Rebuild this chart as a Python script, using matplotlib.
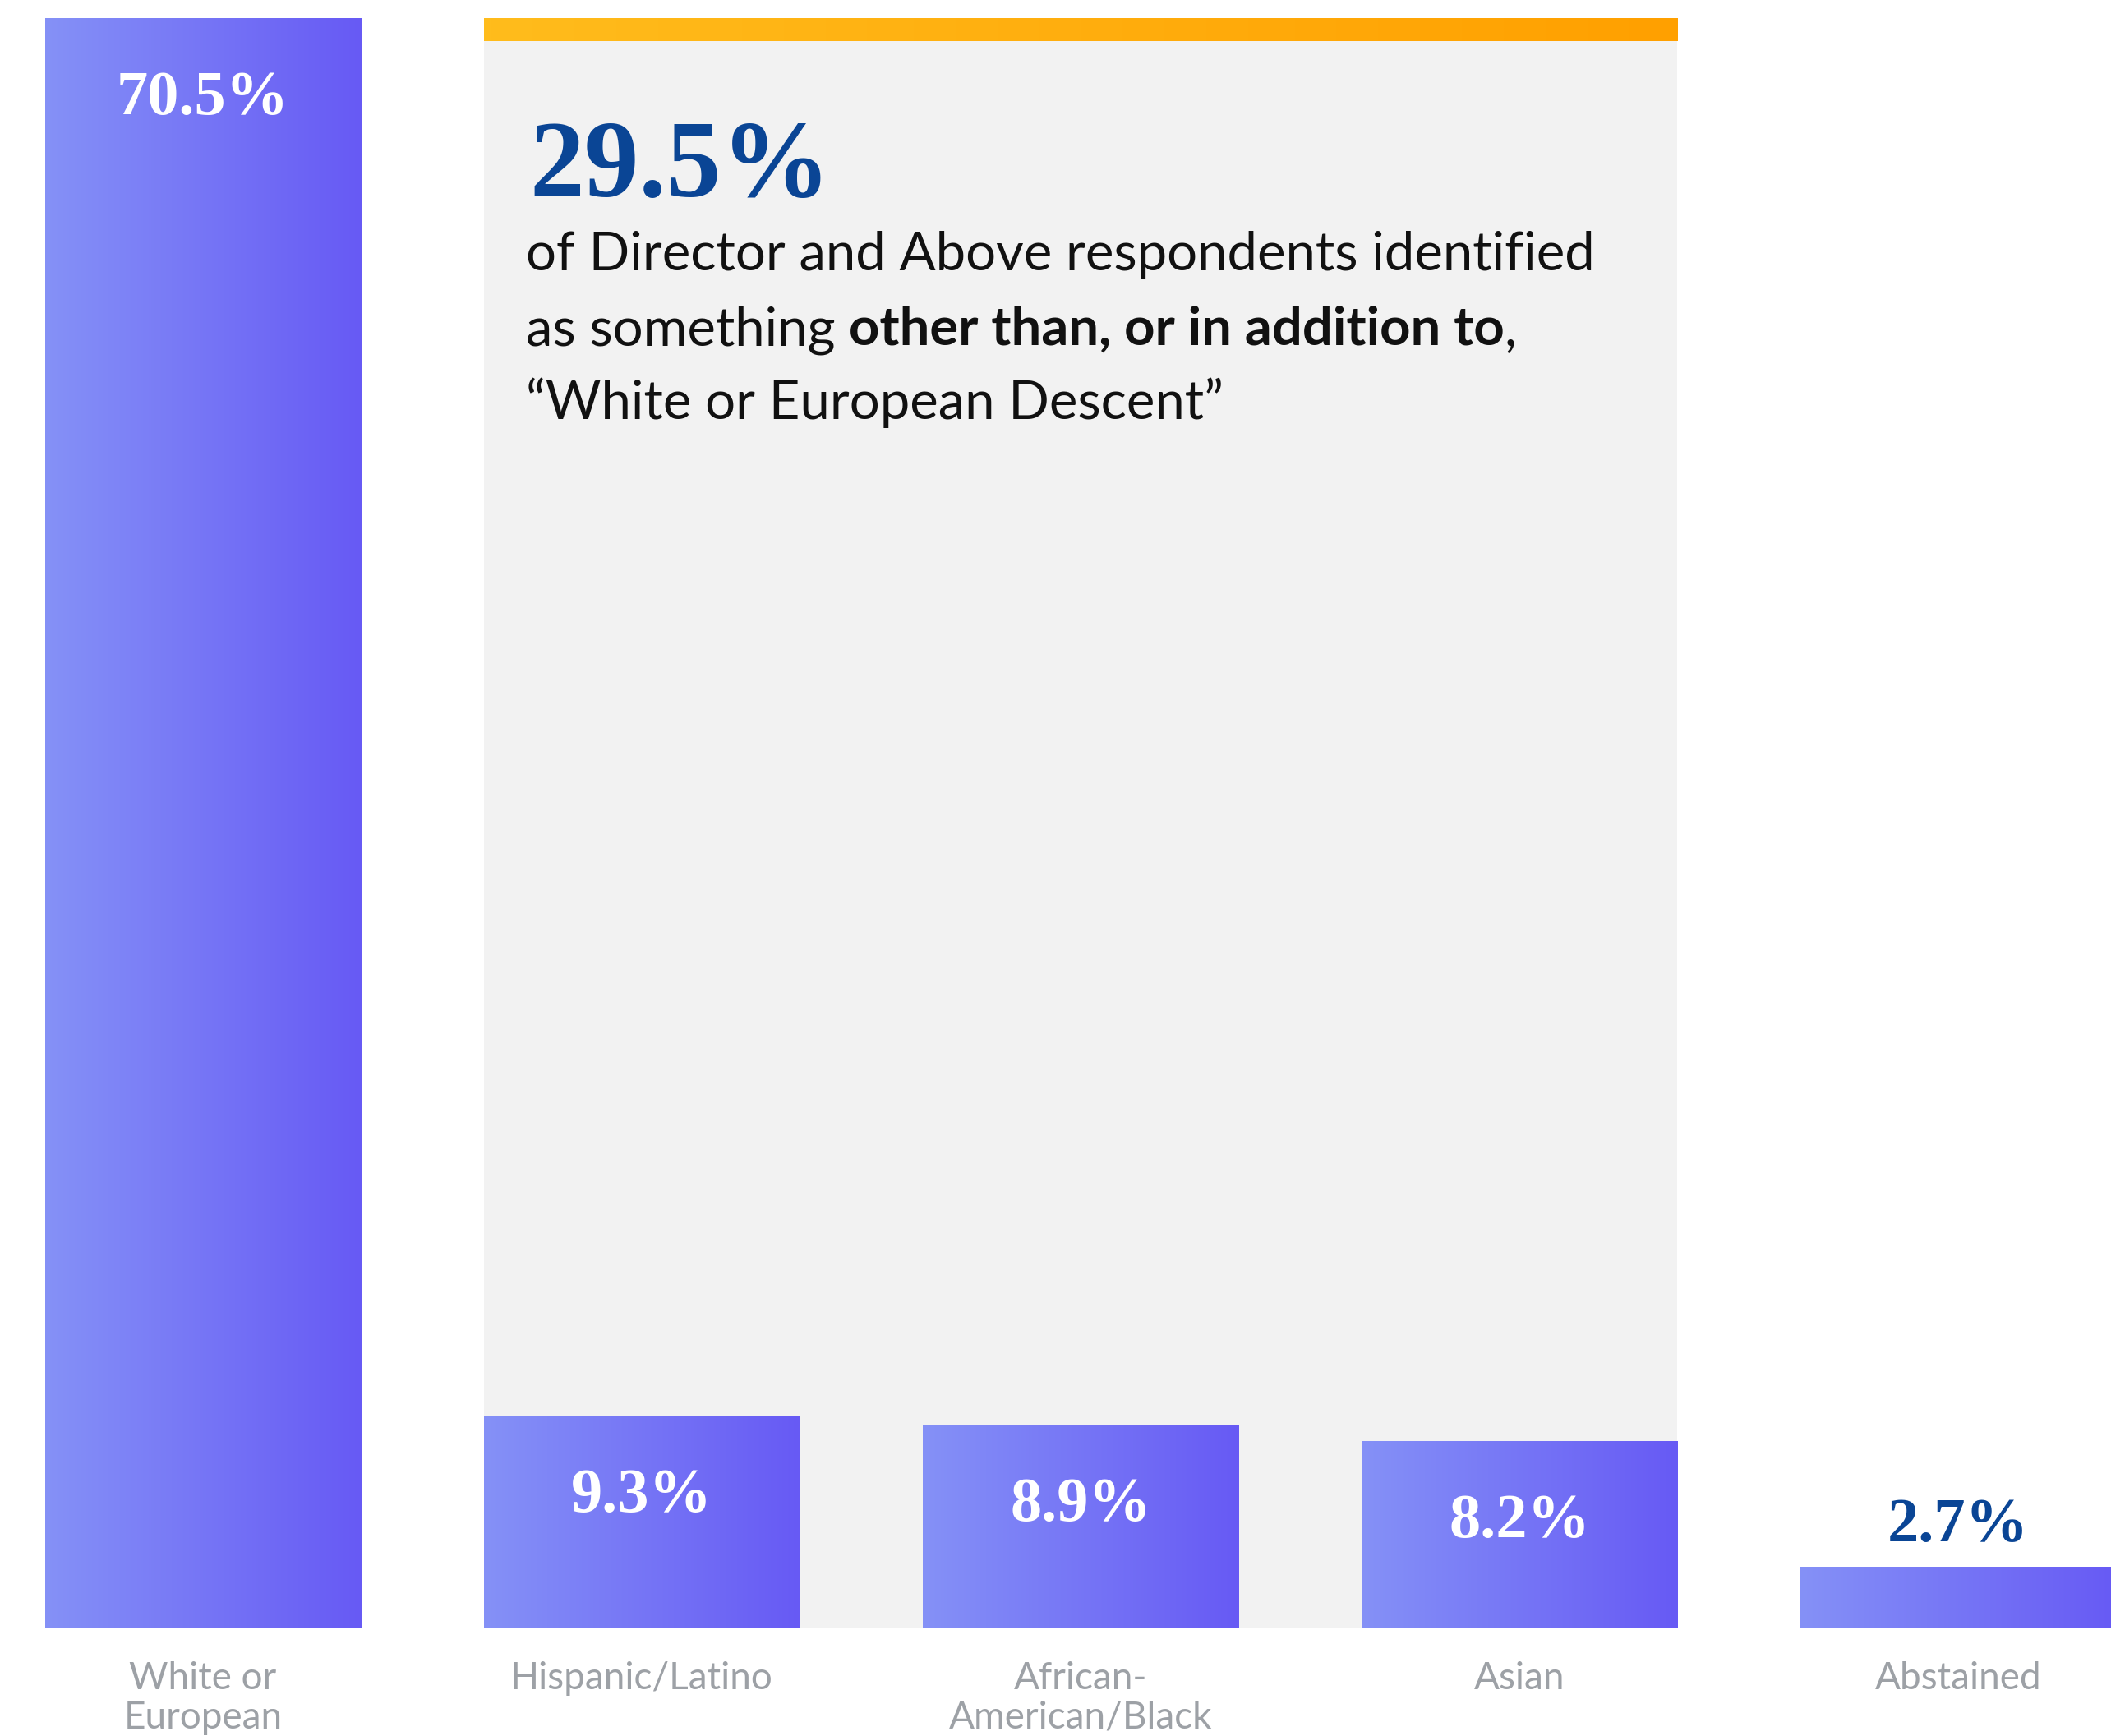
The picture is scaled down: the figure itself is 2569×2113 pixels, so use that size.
import numpy as np
import matplotlib
matplotlib.use("Agg")
import matplotlib.pyplot as plt
from matplotlib.colors import LinearSegmentedColormap
from matplotlib.transforms import Affine2D

# ---------------- data ----------------
categories = ["White or\nEuropean", "Hispanic/Latino", "African-\nAmerican/Black", "Asian", "Abstained"]
values = [70.5, 9.3, 8.9, 8.2, 2.7]
value_labels = ["70.5%", "9.3%", "8.9%", "8.2%", "2.7%"]
highlight_value = "29.5%"
highlight_lines = [
    [("of Director and Above respondents identified", "normal")],
    [("as something ", "normal"), ("other than, or in addition to", "bold"), (",", "normal")],
    [("\u201cWhite or European Descent\u201d", "normal")],
]
panel_range = (1, 3)  # categories inside the grey panel

# ---------------- style ----------------
W, H = 2569, 2113
DPI = 100
BAR_L = "#8591F7"
BAR_R = "#675AF4"
ORANGE_L = "#FFBC1C"
ORANGE_R = "#FFA000"
PANEL = "#F2F2F2"
NAVY = "#0A4595"
GREY = "#9DA1A6"
BODY_FONT = "Lato"
NUM_FONT = "Liberation Serif"

fig = plt.figure(figsize=(W / DPI, H / DPI), dpi=DPI)
ax = fig.add_axes([0, 0, 1, 1])
ax.set_axis_off()

x = np.arange(len(categories))
bar_w = 0.72
ax.set_xlim(-0.4625, 4.348)
ax.set_ylim(-4.71, 71.29)

bars = ax.bar(x, values, width=bar_w, color="none", edgecolor="none", zorder=3)

# gradient maps
bar_cmap = LinearSegmentedColormap.from_list("bar", [BAR_L, BAR_R])
org_cmap = LinearSegmentedColormap.from_list("org", [ORANGE_L, ORANGE_R])
grad = np.linspace(0, 1, 256).reshape(1, -1)

# grey panel behind the middle bars
p0 = bars[panel_range[0]]
p1 = bars[panel_range[1]]
px0 = p0.get_x()
px1 = p1.get_x() + p1.get_width()
top = max(values)
ax.add_patch(plt.Rectangle((px0, 0), px1 - px0, top, facecolor=PANEL, edgecolor="none", zorder=1))
band = 1.0
ax.imshow(grad, extent=[px0, px1, top - band, top], aspect="auto", cmap=org_cmap,
          zorder=1.5, interpolation="bicubic")

# gradient bars
for b in bars:
    x0 = b.get_x()
    x1 = x0 + b.get_width()
    h = b.get_height()
    im = ax.imshow(grad, extent=[x0, x1, 0, h], aspect="auto", cmap=bar_cmap,
                   zorder=2, interpolation="bicubic")
    im.set_clip_path(b)

ax.set_xlim(-0.4625, 4.348)
ax.set_ylim(-4.71, 71.29)

# value labels
inside_offset = 4.2
for xi, v, lab in zip(x, values, value_labels):
    if v > 5:
        ax.text(xi, v - inside_offset, lab, ha="center", va="baseline", color="white",
                fontsize=55, fontweight="bold", family=NUM_FONT, zorder=4)
    else:
        ax.text(xi, v + 1.1, lab, ha="center", va="baseline", color=NAVY,
                fontsize=55, fontweight="bold", family=NUM_FONT, zorder=4)

# category labels (below axis)
for xi, cat in zip(x, categories):
    for k, line in enumerate(cat.split("\n")):
        ax.text(xi, -2.65 - k * 1.73, line, ha="center", va="baseline", color=GREY,
                fontsize=33, family=BODY_FONT, zorder=4)

# highlight text inside panel (figure pixel coordinates)
pix = Affine2D().scale(1.0 / W, -1.0 / H).translate(0, 1) + fig.transFigure
ax.text(644, 239, highlight_value, transform=pix, ha="left", va="baseline", color=NAVY,
        fontsize=96, fontweight="bold", family=NUM_FONT, zorder=4)

fig.canvas.draw()
renderer = fig.canvas.get_renderer()
baselines = [329, 420, 510]
for yb, segs in zip(baselines, highlight_lines):
    xc = 640
    for s, wt in segs:
        t = ax.text(xc, yb, s, transform=pix, ha="left", va="baseline", color="#111111",
                    fontsize=47, fontweight=wt, family=BODY_FONT, zorder=4)
        bb = t.get_window_extent(renderer=renderer)
        xc += bb.width * (W / fig.bbox.width)

fig.savefig("out.png", dpi=DPI, facecolor="white")
